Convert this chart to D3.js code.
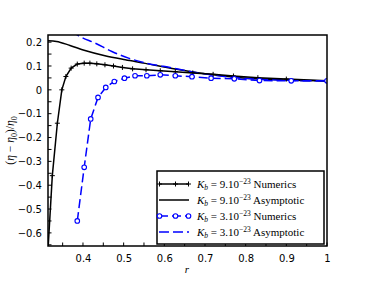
<!DOCTYPE html>
<html>
<head>
<meta charset="utf-8">
<script src="https://cdn.jsdelivr.net/npm/d3@7"></script>
<style>
  body { margin: 0; background: #fff; }
  svg { display: block; }
  .tick text { font-family: "DejaVu Sans", sans-serif; font-size: 10px; }
</style>
</head>
<body>
<div id="chart"></div>
<script>
// Kb = 9.10^-23, numerics
const numR9 = [0.313, 0.3246, 0.337, 0.348, 0.358, 0.371, 0.386, 0.403, 0.417, 0.434, 0.454, 0.475, 0.497, 0.522, 0.555, 0.59, 0.627, 0.67, 0.72, 0.77, 0.83, 0.9, 1.0];
const numV9 = [-0.70, -0.36, -0.14, 0.0, 0.056, 0.091, 0.108, 0.112, 0.112, 0.109, 0.105, 0.100, 0.094, 0.088, 0.084, 0.080, 0.076, 0.071, 0.065, 0.058, 0.051, 0.045, 0.038];
// Kb = 9.10^-23, asymptotic
const asyR9 = [0.314, 0.335, 0.368, 0.405, 0.454, 0.504, 0.553, 0.623, 0.705, 0.787, 0.869, 1.0];
const asyV9 = [0.206, 0.203, 0.186, 0.165, 0.143, 0.126, 0.111, 0.088, 0.066, 0.051, 0.043, 0.037];
// Kb = 3.10^-23, numerics
const numR3 = [0.386, 0.403, 0.419, 0.437, 0.456, 0.477, 0.502, 0.528, 0.557, 0.59, 0.627, 0.668, 0.715, 0.772, 0.834, 0.912, 1.0];
const numV3 = [-0.55, -0.325, -0.122, -0.032, 0.01, 0.035, 0.049, 0.059, 0.059, 0.063, 0.059, 0.055, 0.049, 0.046, 0.039, 0.038, 0.038];
// Kb = 3.10^-23, asymptotic
const asyR3 = [0.37, 0.389, 0.43, 0.471, 0.512, 0.553, 0.623, 0.68, 0.754, 0.836, 1.0];
const asyV3 = [0.25, 0.227, 0.196, 0.161, 0.133, 0.113, 0.091, 0.072, 0.055, 0.044, 0.037];

const xTicks = [0.4, 0.5, 0.6, 0.7, 0.8, 0.9, 1];
const yTicks = [0.2, 0.1, 0, -0.1, -0.2, -0.3, -0.4, -0.5, -0.6];

const W = 374, H = 282;
const mLeft = 48, mRight = 327, mTop = 35, mBottom = 246;

const svg = d3.select('#chart').append('svg')
  .attr('width', W).attr('height', H);

const x = d3.scaleLinear().domain([0.314, 1]).range([mLeft, mRight]);
const y = d3.scaleLinear().domain([-0.655, 0.23]).range([mBottom, mTop]);

svg.append('clipPath').attr('id', 'clip')
  .append('rect').attr('x', mLeft).attr('y', mTop)
  .attr('width', mRight - mLeft).attr('height', mBottom - mTop);

const toPts = (rs, vs) => rs.map((r, i) => ({ r, v: vs[i] }));
const lin = d3.line().x(d => x(d.r)).y(d => y(d.v));
const smooth = d3.line().x(d => x(d.r)).y(d => y(d.v)).curve(d3.curveMonotoneX);

const plot = svg.append('g').attr('clip-path', 'url(#clip)');

// asymptotic curves
plot.append('path').datum(toPts(asyR9, asyV9))
  .attr('d', smooth).attr('fill', 'none').attr('stroke', '#000').attr('stroke-width', 1.5);
plot.append('path').datum(toPts(asyR3, asyV3))
  .attr('d', smooth).attr('fill', 'none').attr('stroke', '#0000ff').attr('stroke-width', 1.5)
  .attr('stroke-dasharray', '10,4');

// numerics
const n9 = toPts(numR9, numV9);
plot.append('path').datum(n9)
  .attr('d', lin).attr('fill', 'none').attr('stroke', '#000').attr('stroke-width', 1.5);
plot.append('g').selectAll('path').data(n9).enter().append('path')
  .attr('d', d => `M${x(d.r) - 2.5},${y(d.v)}h5M${x(d.r)},${y(d.v) - 2.5}v5`)
  .attr('stroke', '#000').attr('stroke-width', 1);

const n3 = toPts(numR3, numV3);
plot.append('path').datum(n3)
  .attr('d', lin).attr('fill', 'none').attr('stroke', '#0000ff').attr('stroke-width', 1.5)
  .attr('stroke-dasharray', '9,4');
plot.append('g').selectAll('circle').data(n3).enter().append('circle')
  .attr('cx', d => x(d.r)).attr('cy', d => y(d.v)).attr('r', 2.3)
  .attr('fill', '#fff').attr('stroke', '#0000ff').attr('stroke-width', 1.1);

// axes (ticks inward)
const minorX = d3.range(0.35, 1.001, 0.05);
const minorY = d3.range(-0.65, 0.21, 0.05);
svg.append('g').selectAll('line').data(minorX).enter().append('line')
  .attr('x1', d => x(d)).attr('x2', d => x(d)).attr('y1', mBottom).attr('y2', mBottom - 3.5)
  .attr('stroke', '#000').attr('stroke-width', 1);
svg.append('g').selectAll('line').data(minorY).enter().append('line')
  .attr('y1', d => y(d)).attr('y2', d => y(d)).attr('x1', mLeft).attr('x2', mLeft + 3.5)
  .attr('stroke', '#000').attr('stroke-width', 1);

const xAxis = svg.append('g').attr('transform', `translate(0,${mBottom})`)
  .call(d3.axisBottom(x).tickValues(xTicks).tickSize(0).tickPadding(9).tickFormat(d3.format('')));
xAxis.select('.domain').remove();
const yAxis = svg.append('g').attr('transform', `translate(${mLeft},0)`)
  .call(d3.axisLeft(y).tickValues(yTicks).tickSize(0).tickPadding(6).tickFormat(d => d === 0 ? '0' : d3.format('.1f')(d)));
yAxis.select('.domain').remove();

// frame
svg.append('rect').attr('x', mLeft).attr('y', mTop)
  .attr('width', mRight - mLeft).attr('height', mBottom - mTop)
  .attr('fill', 'none').attr('stroke', '#000').attr('stroke-width', 1.5);

// axis labels
svg.append('text').attr('x', 187).attr('y', 273)
  .attr('text-anchor', 'middle')
  .style('font-family', '"Liberation Serif", serif').style('font-style', 'italic').style('font-size', '11px')
  .text('r');

const yl = svg.append('text')
  .attr('transform', `translate(14,${(mTop + mBottom) / 2}) rotate(-90)`)
  .attr('text-anchor', 'middle')
  .style('font-family', '"Liberation Serif", serif').style('font-size', '11.5px');
yl.append('tspan').text('(');
yl.append('tspan').style('font-style', 'italic').text('η');
yl.append('tspan').text(' − ');
yl.append('tspan').style('font-style', 'italic').text('η');
yl.append('tspan').attr('dy', 2.5).style('font-size', '8px').text('0');
yl.append('tspan').attr('dy', -2.5).text(')/');
yl.append('tspan').style('font-style', 'italic').text('η');
yl.append('tspan').attr('dy', 2.5).style('font-size', '8px').text('0');

// legend
const legendItems = [
  { k: '9', label: 'Numerics', color: '#000', dash: null, marker: 'plus' },
  { k: '9', label: 'Asymptotic', color: '#000', dash: null, marker: null },
  { k: '3', label: 'Numerics', color: '#0000ff', dash: '9,4', marker: 'circle' },
  { k: '3', label: 'Asymptotic', color: '#0000ff', dash: '10,4', marker: null }
];
const lg = svg.append('g');
lg.append('rect').attr('x', 157).attr('y', 171).attr('width', 167).attr('height', 73)
  .attr('fill', '#fff').attr('stroke', '#000').attr('stroke-width', 1.5);
legendItems.forEach((it, i) => {
  const cy = 184 + i * 16;
  lg.append('line').attr('x1', 159).attr('x2', 189).attr('y1', cy).attr('y2', cy)
    .attr('stroke', it.color).attr('stroke-width', 1.5)
    .attr('stroke-dasharray', it.dash);
  [159.5, 175.5, 188.5].forEach(mx => {
    if (it.marker === 'plus') {
      lg.append('path').attr('d', `M${mx - 2.5},${cy}h5M${mx},${cy - 2.5}v5`)
        .attr('stroke', '#000').attr('stroke-width', 1);
    } else if (it.marker === 'circle') {
      lg.append('circle').attr('cx', mx).attr('cy', cy).attr('r', 2.3)
        .attr('fill', '#fff').attr('stroke', '#0000ff').attr('stroke-width', 1.1);
    }
  });
  const t = lg.append('text').attr('x', 197).attr('y', cy + 4)
    .style('font-family', '"Liberation Serif", serif').style('font-size', '11px');
  t.append('tspan').style('font-style', 'italic').text('K');
  t.append('tspan').attr('dy', 2).style('font-size', '7.5px').style('font-style', 'italic').text('b');
  t.append('tspan').attr('dy', -2).text(' = ' + it.k + '.10');
  t.append('tspan').attr('dy', -4.5).style('font-size', '7.5px').text('−23');
  t.append('tspan').attr('dy', 4.5).text(' ' + it.label);
});
</script>
</body>
</html>
